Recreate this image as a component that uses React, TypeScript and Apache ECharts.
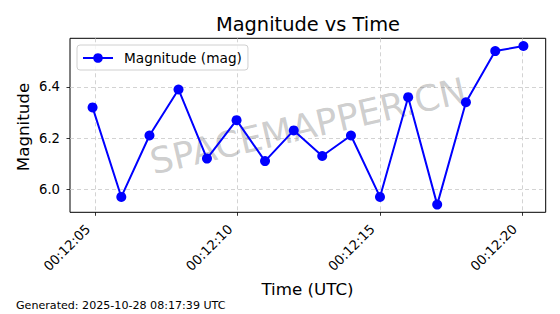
import React, { useEffect, useRef } from "react";
import * as echarts from "echarts";

const times = [
  "00:12:04.90", "00:12:05.91", "00:12:06.90", "00:12:07.92",
  "00:12:08.92", "00:12:09.96", "00:12:10.96", "00:12:11.97",
  "00:12:12.97", "00:12:13.98", "00:12:15.00", "00:12:15.99",
  "00:12:17.01", "00:12:18.02", "00:12:19.05", "00:12:20.04",
];
const magnitudes = [
  6.32, 5.97, 6.21, 6.39, 6.12, 6.27, 6.11, 6.23,
  6.13, 6.21, 5.97, 6.36, 5.94, 6.34, 6.54, 6.56,
];
const xTickSeconds = [5, 10, 15, 20];
const yTicks = [6.0, 6.2, 6.4];
const seriesName = "Magnitude (mag)";
const titleText = "Magnitude vs Time";
const xLabel = "Time (UTC)";
const yLabel = "Magnitude";
const footerText = "Generated: 2025-10-28 08:17:39 UTC";
const watermarkText = "SPACEMAPPER.CN";

const FONT = "DejaVu Sans";

function toSeconds(t: string): number {
  const [h, m, s] = t.split(":");
  return (Number(h) * 3600 + Number(m) * 60 + Number(s)) - 12 * 60;
}

function fmtTime(v: number): string {
  const s = Math.round(v);
  return "00:12:" + String(s).padStart(2, "0");
}

export default function App() {
  const ref = useRef<HTMLDivElement>(null);
  useEffect(() => {
    if (!ref.current) return;
    const chart = echarts.init(ref.current, undefined, { renderer: "svg" });
    const data = times.map((t, i) => [toSeconds(t), magnitudes[i]]);
    chart.setOption({
      animation: false,
      backgroundColor: "#ffffff",
      textStyle: { fontFamily: FONT },
      grid: {
        left: 70,
        right: 14.3,
        top: 38.3,
        bottom: 101.7,
        show: true,
        borderColor: "#000000",
        borderWidth: 1,
        backgroundColor: "transparent",
        containLabel: false,
      },
      legend: {
        left: 77,
        top: 45,
        orient: "vertical",
        itemWidth: 30,
        itemHeight: 12,
        padding: [6, 6, 5, 5],
        borderColor: "#d0d0d0",
        borderWidth: 1,
        borderRadius: 3,
        backgroundColor: "rgba(255,255,255,0.8)",
        textStyle: { fontFamily: FONT, fontSize: 13.7, color: "#000", padding: [0, 0, 0, 6] },
        data: [seriesName],
      },
      xAxis: {
        type: "value",
        min: 4.107,
        max: 20.823,
        axisLine: { show: false },
        axisTick: {
          show: true,
          inside: false,
          length: 3.5,
          customValues: xTickSeconds,
          lineStyle: { color: "#000", width: 0.8 },
        },
        axisLabel: {
          customValues: xTickSeconds,
          rotate: 45,
          margin: 7,
          padding: [0, 10.6, 0, 0],
          fontFamily: FONT,
          fontSize: 13.2,
          color: "#000",
          formatter: (v: number) => fmtTime(v),
        },
        splitLine: {
          show: true,
          lineStyle: { color: "#c8c8c8", width: 0.8, type: [4, 3] },
        },
      },
      yAxis: {
        type: "value",
        min: 5.91,
        max: 6.59,
        axisLine: { show: false },
        axisTick: {
          show: true,
          inside: false,
          length: 3.5,
          customValues: yTicks,
          lineStyle: { color: "#000", width: 0.8 },
        },
        axisLabel: {
          customValues: yTicks,
          margin: 10,
          fontFamily: FONT,
          fontSize: 13.2,
          color: "#000",
          formatter: (v: number) => v.toFixed(1),
        },
        splitLine: {
          show: true,
          lineStyle: { color: "#c8c8c8", width: 0.8, type: [4, 3] },
        },
      },
      series: [
        {
          name: seriesName,
          type: "line",
          data,
          symbol: "circle",
          symbolSize: 10,
          z: 3,
          lineStyle: { color: "#0000ff", width: 2 },
          itemStyle: { color: "#0000ff" },
        },
      ],
      graphic: [
        {
          type: "text",
          x: 308,
          y: 24,
          style: {
            text: titleText,
            fontFamily: FONT,
            fontSize: 19.4,
            fill: "#000",
            textAlign: "center",
            textVerticalAlign: "middle",
          },
        },
        {
          type: "text",
          x: 307.5,
          y: 289.2,
          style: {
            text: xLabel,
            fontFamily: FONT,
            fontSize: 16.7,
            fill: "#000",
            textAlign: "center",
            textVerticalAlign: "middle",
          },
        },
        {
          type: "text",
          x: 23,
          y: 127,
          rotation: Math.PI / 2,
          style: {
            text: yLabel,
            fontFamily: FONT,
            fontSize: 16.7,
            fill: "#000",
            textAlign: "center",
            textVerticalAlign: "middle",
          },
        },
        {
          type: "text",
          x: 16,
          y: 305.5,
          style: {
            text: footerText,
            fontFamily: FONT,
            fontSize: 11.1,
            fill: "#000",
            textAlign: "left",
            textVerticalAlign: "middle",
          },
        },
        {
          type: "text",
          x: 308,
          y: 126,
          z: 1,
          rotation: (13 * Math.PI) / 180,
          style: {
            text: watermarkText,
            fontFamily: FONT,
            fontSize: 36,
            fill: "rgba(128,128,128,0.4)",
            textAlign: "center",
            textVerticalAlign: "middle",
          },
        },
      ],
    });
    return () => chart.dispose();
  }, []);
  return (
    <div
      ref={ref}
      style={{ position: "fixed", left: 0, top: 0, width: 560, height: 314 }}
    />
  );
}
